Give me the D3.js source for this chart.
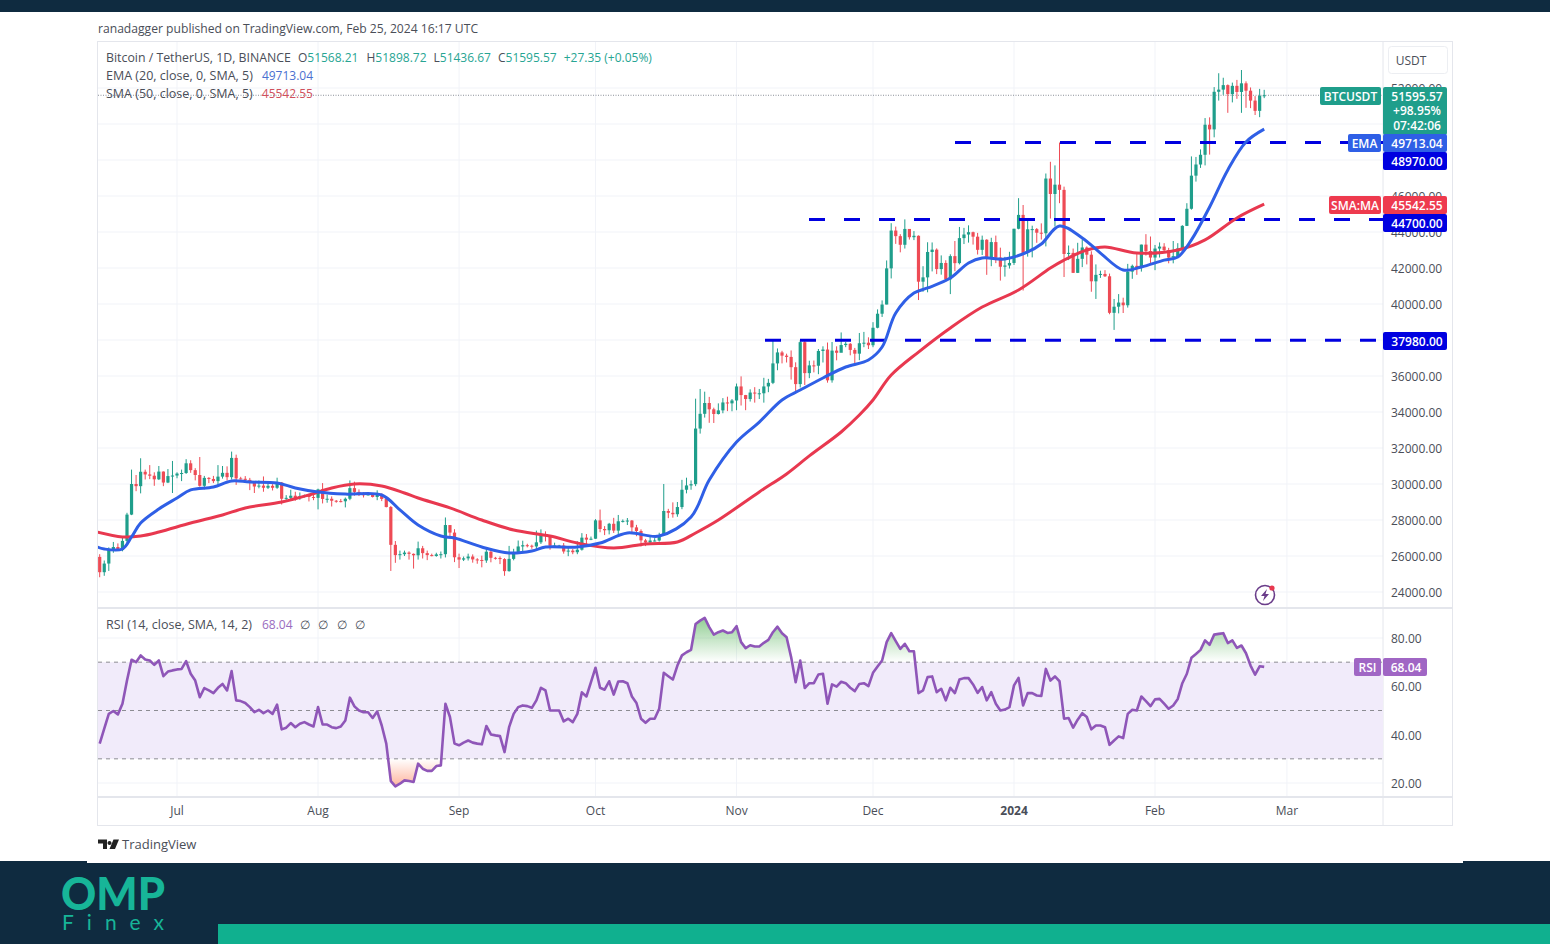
<!DOCTYPE html>
<html>
<head>
<meta charset="utf-8">
<script src="https://cdn.jsdelivr.net/npm/d3@7"></script>
<style>
	html, body { margin: 0; padding: 0; background: #fff; overflow: hidden; }
	svg { display: block; }
	text { font-family: "Open Sans", sans-serif; font-size: 12px; fill: #4a4e58; }
</style>
</head>
<body>
<div id="chart"></div>
<script>
// first open, then one close per day from Jun 14 2023 (each candle opens on the previous close)
const firstOpen = 25950;
const closes = [
	25100, 25580, 26330, 26500, 26330, 26840, 28300, 30000, 29880, 30680,
	30530, 30460, 30260, 30690, 30080, 30440, 30470, 30580, 30610, 31150,
	30770, 30500, 29900, 30340, 30280, 30160, 30410, 30620, 30380, 31450,
	30310, 30290, 30230, 30140, 29860, 29910, 29790, 29900, 29790, 30080,
	29180, 29230, 29350, 29210, 29320, 29350, 29280, 29230, 29700, 29170,
	29180, 29070, 29050, 29040, 29180, 29770, 29560, 29430, 29400, 29420,
	29280, 29410, 29170, 28720, 26620, 26050, 26100, 26190, 26120, 26040,
	26430, 26160, 26050, 26000, 26090, 26100, 27720, 27300, 25930, 25800,
	25870, 25970, 25810, 25780, 25750, 26240, 25900, 25890, 25830, 25160,
	25840, 26220, 26530, 26600, 26570, 26530, 26760, 27210, 27130, 26570,
	26580, 26580, 26250, 26300, 26210, 26350, 27020, 26910, 26960, 27980,
	27500, 27430, 27790, 27410, 27930, 27950, 27970, 27590, 27390, 26870,
	26750, 26860, 26860, 27160, 28500, 28400, 28320, 28720, 29680, 29920,
	29990, 33080, 33900, 34500, 34150, 33890, 34090, 34530, 34480, 34640,
	35420, 34940, 34720, 35080, 35040, 35040, 35420, 35620, 36700, 37310,
	37130, 37060, 36490, 35550, 37880, 36160, 36590, 36570, 37390, 37470,
	35760, 37410, 37290, 37720, 37790, 37450, 37240, 37820, 37850, 37710,
	38680, 39460, 39970, 41980, 44080, 43770, 43290, 44170, 43710, 43790,
	41240, 41480, 42890, 43020, 41940, 42280, 41370, 42660, 42270, 43660,
	43860, 43990, 43740, 43010, 43570, 42510, 43440, 42580, 42070, 42140,
	42280, 44180, 44950, 42840, 44150, 44160, 43960, 43930, 46970, 46110,
	46630, 46340, 42780, 42840, 41730, 42510, 43140, 42740, 41260, 41620,
	41670, 41540, 39510, 39850, 40080, 39930, 41800, 42120, 42030, 43300,
	42940, 42580, 43080, 43190, 42990, 42580, 42660, 43090, 44340, 45290,
	47130, 47750, 48290, 49960, 49700, 51790, 51910, 52160, 51660, 52120,
	51780, 52260, 51850, 51300, 50730, 51570, 51595.57
];
const highs = [
	26100, 25750, 26480, 26780, 26700, 27050, 28400, 30800, 30500, 31430,
	30800, 31050, 30650, 31000, 30700, 30830, 31280, 30650, 30800, 31380,
	31320, 30880, 31500, 30450, 30380, 30450, 31050, 31000, 30980, 31800,
	31630, 30400, 30440, 30340, 30050, 30200, 30420, 30050, 29990, 30350,
	30110, 29380, 29680, 29570, 29530, 29410, 29450, 29530, 29740, 30050,
	29410, 29310, 29110, 29170, 29250, 30200, 30130, 29700, 29540, 29450,
	29470, 29650, 29480, 29230, 28780, 26830, 26300, 26300, 26260, 26140,
	26800, 26560, 26300, 26130, 26180, 26250, 28140, 27580, 27490, 26130,
	25970, 26130, 26090, 25880, 26020, 26450, 26430, 25950, 25980, 25880,
	26560, 26400, 26860, 26850, 26680, 26630, 27410, 27480, 27370, 27150,
	26740, 26620, 26720, 26450, 26390, 26820, 27270, 27220, 27080, 28050,
	28580, 27660, 27840, 28120, 28280, 28030, 28110, 28000, 27730, 27480,
	26950, 27100, 26990, 27290, 30000, 28620, 28980, 29000, 30230, 30350,
	30200, 34740, 35280, 35130, 34840, 34240, 34480, 34770, 34850, 34720,
	35580, 35980, 34950, 35260, 35380, 35280, 35900, 35840, 37970, 37530,
	37400, 37240, 37420, 36760, 37980, 37970, 36850, 36860, 37500, 37650,
	37860, 37890, 37650, 38420, 37890, 37830, 37560, 38390, 38450, 38150,
	38990, 39700, 40200, 42420, 44490, 44300, 43880, 44700, 44040, 44050,
	43810, 42100, 43430, 43420, 43090, 42700, 42430, 42760, 43500, 44280,
	44230, 44370, 44020, 43950, 43800, 43600, 43680, 43800, 43130, 42620,
	42900, 44180, 45880, 45500, 44730, 44350, 44220, 44480, 47250, 47900,
	47700, 48970, 46520, 43250, 43080, 43400, 43580, 43200, 42930, 42200,
	41850, 41880, 41690, 40280, 40550, 40350, 42230, 42190, 42850, 43300,
	43880, 43750, 43280, 43420, 43380, 43120, 43500, 43380, 44380, 45600,
	48200, 48170, 48590, 50330, 50370, 52050, 52820, 52570, 52200, 52300,
	52450, 53000, 52370, 52030, 51550, 51950, 51898.72
];
const lows = [
	24820, 24900, 25170, 26180, 26280, 26260, 26650, 28270, 29600, 29480,
	30250, 30270, 29900, 30220, 29880, 30050, 29500, 30320, 30160, 30560,
	30620, 30200, 29850, 29700, 30050, 30050, 29950, 30300, 30200, 30250,
	29950, 30250, 30070, 29660, 29500, 29760, 29570, 29720, 29640, 29730,
	28860, 29050, 29090, 29070, 29120, 29250, 29030, 29100, 28590, 28920,
	28960, 28750, 28960, 28980, 28700, 29100, 29350, 29330, 29250, 29360,
	29250, 29100, 29050, 28700, 25170, 25620, 25800, 26000, 25800, 25300,
	25800, 25860, 25770, 25980, 25960, 25860, 25920, 27000, 25660, 25330,
	25720, 25750, 25630, 25570, 25370, 25620, 25650, 25800, 25550, 24900,
	25130, 25760, 26130, 26230, 26480, 26400, 26390, 26670, 26810, 26350,
	26450, 26520, 26130, 25990, 26100, 26100, 26300, 26660, 26880, 26950,
	27320, 27160, 27200, 27280, 27170, 27860, 27720, 27260, 27100, 26530,
	26550, 26690, 26810, 26800, 27120, 28100, 28130, 28180, 28600, 29480,
	29680, 29880, 32800, 33690, 33400, 33390, 33860, 33930, 34050, 34040,
	34100, 34360, 34100, 34580, 34520, 34720, 34520, 35100, 35550, 36320,
	36700, 36750, 35800, 35100, 35360, 35500, 35880, 36200, 36100, 36750,
	35630, 35630, 36870, 37500, 37600, 37150, 36700, 36880, 37600, 37500,
	37600, 38650, 39280, 39980, 41420, 43340, 42870, 43080, 43580, 43550,
	40220, 40680, 40650, 41810, 41660, 41630, 41250, 40550, 41820, 42200,
	43330, 43410, 43300, 42750, 42720, 41620, 42100, 42270, 41300, 41520,
	41970, 42170, 44150, 40750, 42630, 42590, 43400, 43580, 43200, 44750,
	44300, 45600, 41500, 42440, 41720, 41720, 42050, 42200, 40680, 40280,
	41450, 41500, 39430, 38560, 39480, 39500, 39800, 41400, 41620, 41800,
	42690, 42280, 41880, 42580, 42880, 42260, 42260, 42570, 42780, 44330,
	45240, 46800, 47560, 47700, 48300, 49260, 51300, 51620, 50620, 51200,
	51400, 50620, 50900, 50880, 50500, 50380, 51436.67
];

// moving averages: day number since Jun 14 and price (both run in from the left edge)
const emaDays = [-1, 1, 5, 7, 9, 13, 17, 20, 25, 29, 33, 39, 43, 48, 54, 62, 66, 70, 75, 78, 84, 90, 95, 98, 105, 110, 116, 123, 130, 134, 140, 145, 150, 154, 159, 164, 169, 172, 175, 179, 182, 187, 191, 194, 199, 204, 207, 211, 216, 220, 225, 229, 234, 237, 240, 244, 248, 252, 256];
const emaValues = [26550, 26390, 26390, 27060, 27830, 28610, 29220, 29670, 29830, 30170, 30110, 30060, 29780, 29560, 29440, 29390, 28560, 27720, 27110, 27000, 26500, 26170, 26280, 26500, 26500, 26720, 27280, 27110, 28170, 30220, 32330, 33440, 34670, 35220, 35890, 36500, 36890, 37610, 39500, 40610, 40890, 41440, 42280, 42560, 42500, 42890, 43330, 44330, 43670, 42830, 41890, 42060, 42440, 42610, 43560, 45390, 47450, 49000, 49713.04];
const smaDays = [-1, 5, 9, 13, 20, 27, 32, 40, 46, 51, 56, 62, 67, 70, 77, 84, 91, 99, 105, 113, 120, 127, 131, 136, 145, 151, 156, 163, 167, 170, 174, 180, 187, 194, 202, 209, 212, 217, 221, 228, 237, 243, 250, 256];
const smaValues = [27360, 27060, 27110, 27330, 27830, 28280, 28670, 29000, 29390, 29780, 30000, 29890, 29500, 29220, 28670, 28000, 27440, 27110, 26720, 26440, 26670, 26780, 27280, 28000, 29560, 30560, 31560, 32890, 33830, 34670, 36050, 37330, 38670, 39830, 40780, 42000, 42440, 43000, 43170, 42830, 43000, 43560, 44780, 45542.55];

const rsiValues = [
	36.3, 42.5, 48.6, 49.8, 48.4, 52.8, 62.4, 71, 70, 72.8,
	71.1, 70.7, 68.9, 70.7, 64.2, 66.1, 66.6, 67, 67.2, 70.4,
	65.2, 62.4, 55.5, 59.3, 58.3, 57.2, 59.4, 61, 58.3, 66.3,
	54.2, 53.9, 53.1, 51.4, 49.3, 50.3, 48.9, 50, 48.6, 52.4,
	42.2, 42.9, 44.8, 43.1, 44.5, 45.2, 44.2, 43.4, 51.4, 44.2,
	44.2, 43.1, 42.7, 43.4, 45.9, 55.3, 51.7, 50, 49.3, 49.3,
	46.9, 49.6, 43.8, 36.3, 20.8, 18.6, 19.7, 21.1, 20.8, 20.4,
	28, 25.9, 25, 25, 27, 27.3, 52.8, 47.3, 36.3, 35.6,
	36.7, 37.6, 36.7, 36.3, 36, 43.6, 40.1, 39.7, 39.4, 32.8,
	43.1, 48.6, 51.4, 52.1, 51.8, 51.1, 54.2, 59.4, 58.3, 50,
	50, 50, 45.5, 46.6, 45.2, 48.6, 57.5, 55.8, 61.7, 67.7,
	59.4, 58.6, 62.1, 56.6, 62, 62.1, 61.3, 55.8, 53.1, 46.6,
	44.9, 46.6, 46.6, 50.7, 65.6, 64.2, 62.8, 68.6, 72.8, 74.1,
	75.1, 85.8, 87.2, 88.3, 84.5, 81.4, 82.4, 83.1, 82.1, 82.4,
	84.9, 78.3, 75.8, 77, 76.5, 76.5, 78, 79.2, 82.4, 84.7,
	82, 80.3, 72.1, 61.7, 70.7, 59.3, 61.3, 61.3, 64.9, 65.2,
	52.8, 60.8, 59.9, 61.9, 61.3, 59.4, 58, 61, 61.3, 60.1,
	65.6, 68.2, 70.7, 78.3, 82, 78.7, 75.5, 77.6, 74.5, 74.5,
	57.2, 58.3, 63.8, 64.1, 57.6, 59, 54.2, 59.4, 57.2, 62.8,
	63.4, 63.4, 60.8, 57.3, 59.7, 54.2, 57.6, 52.8, 50, 50.4,
	51.4, 60.4, 63.5, 52.1, 57.2, 57.2, 56.2, 56, 67.2, 62.4,
	64.1, 62.1, 46.6, 46.9, 42.9, 46.2, 48.9, 47.3, 42.2, 43.8,
	43.8, 43.1, 35.8, 37.6, 39.3, 38.6, 48.6, 50.3, 50, 55.8,
	53.9, 51.8, 54.6, 54.8, 52.8, 50.7, 52.1, 54.8, 61.3, 65.2,
	71.8, 73.4, 75.1, 79, 77.2, 81.4, 81.7, 82, 77.9, 79,
	75.9, 76.9, 73.7, 68.6, 64.8, 68.3, 68.04
];

const priceTicks = d3.range(24000, 54000, 2000);
// 48000 and 50000 sit fully under the axis tags, so they get a grid line but no label
const priceLabels = [24000, 26000, 28000, 30000, 32000, 34000, 36000, 38000, 40000, 42000, 44000, 46000, 52000];
const rsiTicks = [20, 40, 60, 80];
const rsiLevels = [70, 50, 30];
const levelPrices = [48970, 44700, 37980];
const monthStarts = ["2023-07-01", "2023-08-01", "2023-09-01", "2023-10-01", "2023-11-01", "2023-12-01", "2024-01-01", "2024-02-01", "2024-03-01"];
const monthLabels = ["Jul", "Aug", "Sep", "Oct", "Nov", "Dec", "2024", "Feb", "Mar"];

const teal = "#1f9e8b", red = "#ee4b55", blue = "#2f5fe6", navy = "#0000e0", purple = "#8f56b8", dark = "#0f2b40";

const svg = d3.select("#chart").append("svg").attr("width", 1550).attr("height", 944);
const defs = svg.append("defs");

const firstDay = Date.UTC(2023, 5, 14);
const dayDate = i => d3.utcDay.offset(new Date(firstDay), i);
const x = d3.scaleUtc().domain([dayDate(0), dayDate(256)]).range([99.7, 1264.2]);
const y = d3.scaleLinear().domain([24000, 52000]).range([592, 88]);
const yRsi = d3.scaleLinear().domain([20, 80]).range([783, 638]);
const left = 98, right = 1383, outer = 1452;

// page frame
svg.append("rect").attr("width", 1550).attr("height", 12).attr("fill", dark);
svg.append("rect").attr("y", 861).attr("width", 1550).attr("height", 83).attr("fill", dark);
svg.append("rect").attr("x", 87).attr("y", 858).attr("width", 1376).attr("height", 5).attr("fill", "#fff");
svg.append("rect").attr("x", 218).attr("y", 924).attr("width", 1332).attr("height", 20).attr("fill", "#10b08f");

svg.append("text").attr("x", 98).attr("y", 32.5).style("font-size", "12.13px")
	.text("ranadagger published on TradingView.com, Feb 25, 2024 16:17 UTC");

// grid
const grid = svg.append("g").attr("stroke", "#f1f3f8").attr("fill", "none");
grid.selectAll("line.h").data(priceTicks).join("line").attr("class", "h")
	.attr("x1", left).attr("x2", right).attr("y1", d => y(d)).attr("y2", d => y(d));
grid.selectAll("line.r").data(rsiTicks).join("line").attr("class", "r")
	.attr("x1", left).attr("x2", right).attr("y1", d => yRsi(d)).attr("y2", d => yRsi(d));
grid.selectAll("line.v").data(monthStarts).join("line").attr("class", "v")
	.attr("x1", d => x(new Date(d))).attr("x2", d => x(new Date(d))).attr("y1", 42).attr("y2", 797);

// chart box and pane separators
const box = svg.append("g").attr("stroke", "#e4e6ec").attr("fill", "none");
box.append("rect").attr("x", left - 0.5).attr("y", 41.5).attr("width", outer - left + 1).attr("height", 784);
box.append("line").attr("x1", right).attr("x2", right).attr("y1", 42).attr("y2", 826);
box.append("line").attr("x1", left).attr("x2", outer).attr("y1", 608).attr("y2", 608).attr("stroke-width", 2);
box.append("line").attr("x1", left).attr("x2", outer).attr("y1", 797).attr("y2", 797).attr("stroke-width", 2);

// last price line
svg.append("line").attr("x1", left).attr("x2", right)
	.attr("y1", y(closes[closes.length - 1])).attr("y2", y(closes[closes.length - 1]))
	.attr("stroke", "#8a8f99").attr("stroke-dasharray", "1,1.5");

// candles
const candles = svg.append("g").selectAll("g").data(closes).join("g");
const openOf = i => i === 0 ? firstOpen : closes[i - 1];
const candleColor = (d, i) => d >= openOf(i) ? teal : red;
candles.append("line")
	.attr("x1", (d, i) => x(dayDate(i))).attr("x2", (d, i) => x(dayDate(i)))
	.attr("y1", (d, i) => y(highs[i])).attr("y2", (d, i) => y(lows[i]))
	.attr("stroke", candleColor).attr("stroke-width", 1);
candles.append("rect")
	.attr("x", (d, i) => x(dayDate(i)) - 1.6).attr("width", 3.2)
	.attr("y", (d, i) => y(Math.max(d, openOf(i))))
	.attr("height", (d, i) => Math.max(1, Math.abs(y(d) - y(openOf(i)))))
	.attr("fill", candleColor);

// support and resistance levels, each starts where it was drawn
const levelStart = [955, 809, 765];
svg.append("g").selectAll("line").data(levelPrices).join("line")
	.attr("x1", (d, i) => levelStart[i]).attr("x2", right)
	.attr("y1", d => y(d)).attr("y2", d => y(d))
	.attr("stroke", navy).attr("stroke-width", 3).attr("stroke-dasharray", "16,19");

// moving averages
defs.append("clipPath").attr("id", "pricePane").append("rect")
	.attr("x", left).attr("width", right - left).attr("y", 42).attr("height", 566);
const maLine = d3.line().x(d => x(dayDate(d[0]))).y(d => y(d[1])).curve(d3.curveCatmullRom.alpha(0.5));
const maLines = svg.append("g").attr("clip-path", "url(#pricePane)").attr("fill", "none").attr("stroke-width", 3);
maLines.append("path").attr("d", maLine(d3.zip(smaDays, smaValues))).attr("stroke", "#e8384f");
maLines.append("path").attr("d", maLine(d3.zip(emaDays, emaValues))).attr("stroke", blue);

// RSI band
svg.append("rect").attr("x", left).attr("width", right - left)
	.attr("y", yRsi(70)).attr("height", yRsi(30) - yRsi(70)).attr("fill", "#f1ebfa");
svg.append("g").selectAll("line").data(rsiLevels).join("line")
	.attr("x1", left).attr("x2", right).attr("y1", d => yRsi(d)).attr("y2", d => yRsi(d))
	.attr("stroke", "#8c8c92").attr("stroke-dasharray", "4,4");

// fills over 70 and under 30
const upGrad = defs.append("linearGradient").attr("id", "rsiUp").attr("gradientUnits", "userSpaceOnUse")
	.attr("x1", 0).attr("x2", 0).attr("y1", yRsi(88)).attr("y2", yRsi(70));
upGrad.append("stop").attr("offset", 0).attr("stop-color", "#4caf50").attr("stop-opacity", 0.6);
upGrad.append("stop").attr("offset", 1).attr("stop-color", "#4caf50").attr("stop-opacity", 0);
const downGrad = defs.append("linearGradient").attr("id", "rsiDown").attr("gradientUnits", "userSpaceOnUse")
	.attr("x1", 0).attr("x2", 0).attr("y1", yRsi(30)).attr("y2", yRsi(19));
downGrad.append("stop").attr("offset", 0).attr("stop-color", "#ff7043").attr("stop-opacity", 0);
downGrad.append("stop").attr("offset", 1).attr("stop-color", "#ff7043").attr("stop-opacity", 0.5);
defs.append("clipPath").attr("id", "aboveBand").append("rect")
	.attr("x", left).attr("width", right - left).attr("y", 609).attr("height", yRsi(70) - 609);
defs.append("clipPath").attr("id", "belowBand").append("rect")
	.attr("x", left).attr("width", right - left).attr("y", yRsi(30)).attr("height", 797 - yRsi(30));

const rsiX = (d, i) => x(dayDate(i));
svg.append("path").attr("clip-path", "url(#aboveBand)").attr("fill", "url(#rsiUp)")
	.attr("d", d3.area().x(rsiX).y0(yRsi(70)).y1(d => yRsi(d))(rsiValues));
svg.append("path").attr("clip-path", "url(#belowBand)").attr("fill", "url(#rsiDown)")
	.attr("d", d3.area().x(rsiX).y0(yRsi(30)).y1(d => yRsi(d))(rsiValues));
svg.append("path").attr("fill", "none").attr("stroke", purple).attr("stroke-width", 2.6)
	.attr("stroke-linejoin", "round")
	.attr("d", d3.line().x(rsiX).y(d => yRsi(d))(rsiValues));

// axes
const priceAxis = svg.append("g").attr("transform", `translate(${right},0.8)`)
	.call(d3.axisRight(y).tickValues(priceLabels).tickSize(0).tickPadding(8).tickFormat(d3.format(".2f")));
const rsiAxis = svg.append("g").attr("transform", `translate(${right},0.8)`)
	.call(d3.axisRight(yRsi).tickValues(rsiTicks).tickSize(0).tickPadding(8).tickFormat(d3.format(".2f")));
const timeAxis = svg.append("g").attr("transform", "translate(-0.5,797)")
	.call(d3.axisBottom(x).tickValues(monthStarts.map(d => new Date(d))).tickSize(0).tickPadding(9)
		.tickFormat((d, i) => monthLabels[i]));
[priceAxis, rsiAxis, timeAxis].forEach(a => {
	a.select(".domain").remove();
	a.selectAll("text").style("font-family", '"Open Sans", sans-serif').style("font-size", "12px").attr("fill", "#4a4e58");
});
timeAxis.selectAll("text").filter(d => d.getUTCFullYear() === 2024 && d.getUTCMonth() === 0).style("font-weight", "700");

// legend, each part is text, colour, gap before it and font size
function legendRow(yPos, parts) {
	const t = svg.append("text").attr("x", 106).attr("y", yPos);
	parts.forEach(p => t.append("tspan").attr("dx", p[2] || 0).style("fill", p[1]).style("font-size", (p[3] || 12) + "px").text(p[0]));
}
const ink = "#4a4e58", legendTeal = "#27a593";
legendRow(61.5, [["Bitcoin / TetherUS, 1D, BINANCE", ink, 0, 12.33], ["O", ink, 7], ["51568.21", legendTeal], ["H", ink, 8], ["51898.72", legendTeal],
	["L", ink, 7], ["51436.67", legendTeal], ["C", ink, 7], ["51595.57", legendTeal], ["+27.35 (+0.05%)", legendTeal, 7]]);
legendRow(79.5, [["EMA (20, close, 0, SMA, 5)", ink, 0, 12.5], ["49713.04", "#4a6fd0", 9]]);
legendRow(97.5, [["SMA (50, close, 0, SMA, 5)", ink, 0, 12.5], ["45542.55", "#d0505c", 9]]);
legendRow(628.5, [["RSI (14, close, SMA, 14, 2)", ink, 0, 12.5], ["68.04", "#9a6cc0", 10], ["∅", ink, 7], ["∅", ink, 8.5], ["∅", ink, 8.5], ["∅", ink, 8.5]]);

// USDT box
svg.append("rect").attr("x", 1388.5).attr("y", 46.5).attr("width", 59).attr("height", 27).attr("rx", 3)
	.attr("fill", "#fff").attr("stroke", "#eceef2");
svg.append("text").attr("x", 1411).attr("y", 64.5).attr("text-anchor", "middle").text("USDT");

// price tags on the axis
function tag(xPos, yPos, w, h, fill, lines, textX) {
	svg.append("rect").attr("x", xPos).attr("y", yPos).attr("width", w).attr("height", h).attr("rx", 2).attr("fill", fill);
	lines.forEach((s, i) => {
		svg.append("text").attr("x", textX || xPos + w / 2).attr("y", yPos + 13.5 + i * 14.5).attr("text-anchor", "middle")
			.style("fill", "#fff").style("font-weight", 600).text(s);
	});
}
tag(1320, 87, 61, 18, "#1f9e8b", ["BTCUSDT"]);
tag(1383, 87, 64, 48, "#1f9e8b", ["51595.57", "+98.95%", "07:42:06"], 1417);
tag(1348, 134, 33, 18, blue, ["EMA"]);
tag(1383, 134, 64, 18, blue, ["49713.04"], 1417);
tag(1383, 152, 64, 18, navy, ["48970.00"], 1417);
tag(1329, 196, 52, 18, "#ee3a4e", ["SMA:MA"]);
tag(1383, 196, 64, 18, "#ee3a4e", ["45542.55"], 1417);
tag(1383, 214, 64, 18, navy, ["44700.00"], 1417);
tag(1383, 332, 64, 18, navy, ["37980.00"], 1417);
tag(1354, 658, 27, 18, "#a066c4", ["RSI"]);
tag(1383, 658, 44, 18, "#a066c4", ["68.04"], 1406);

// snapshot badge
const badge = svg.append("g").attr("transform", "translate(1265,595)");
badge.append("circle").attr("r", 9.5).attr("fill", "#fff").attr("stroke", "#6a3d8a").attr("stroke-width", 1.6);
badge.append("path").attr("d", "M2,-6 L-4,1 L-0.5,1 L-2,6 L4,-1 L0.5,-1 Z").attr("fill", "#6a3d8a");
badge.append("circle").attr("cx", 7).attr("cy", -7).attr("r", 2.6).attr("fill", "#e8384f");

// TradingView mark
svg.append("path").attr("fill", "#222")
	.attr("d", "M98,839.5 h9 v9.5 h-4 v-5.5 h-5 Z M109.5,841 a2,2 0 1,0 0.01,0 Z M113.5,839.5 h5.5 l-4,9.5 h-5.5 Z");
svg.append("text").attr("x", 122).attr("y", 849).style("font-size", "13px").text("TradingView");

// OMP logo
svg.append("text").attr("x", 61).attr("y", 910)
	.style("font-family", "Lato, sans-serif").style("font-weight", 900).style("font-size", "45px")
	.style("fill", "#17b598").attr("textLength", 104).attr("lengthAdjust", "spacingAndGlyphs").text("OMP");
svg.append("text").attr("x", 62).attr("y", 930)
	.style("font-family", "Lato, sans-serif").style("font-weight", 400).style("font-size", "21px")
	.style("fill", "#17b598").attr("textLength", 102).text("Finex");
</script>
</body>
</html>
